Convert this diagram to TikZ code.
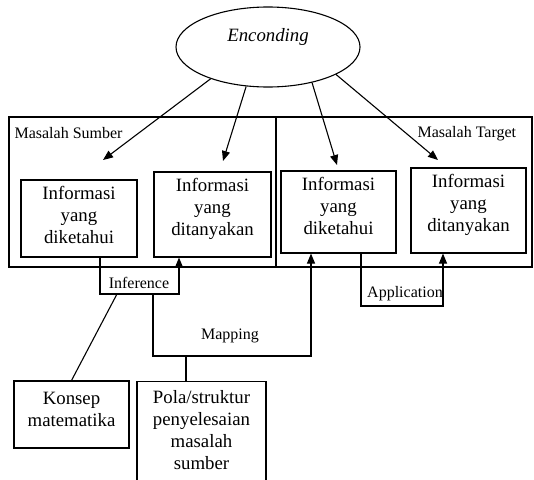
\documentclass[tikz,border=0pt]{standalone}
\usepackage{fontspec}
\setmainfont{Liberation Serif}
\usetikzlibrary{arrows.meta,shapes.geometric}
\begin{document}
\begin{tikzpicture}[x=1pt,y=-1pt,line width=1.1pt,
  box/.style={draw, align=center, font=\fontsize{18.8}{22}\selectfont, inner sep=0pt},
  lab/.style={font=\fontsize{16}{19}\selectfont, inner sep=0pt},
  arr/.style={-{Triangle[length=10pt,width=8pt]}}]
\useasboundingbox (0,0) rectangle (534,479);
% frames
\draw (9,117) rectangle (532,267);
\draw (276,117) -- (276,267);
\node[lab, anchor=base west] (ms) at (14,138) {Masalah Sumber};
\node[lab, anchor=base west] (mt) at (417,137) {Masalah Target};
% ellipse
\node[draw, ellipse, minimum width=184, minimum height=80, inner sep=0pt,
      font=\fontsize{18.8}{22}\selectfont\itshape, text height=14pt, text depth=26pt] (enc) at (268,47) {Enconding};
% boxes
\node[box, minimum width=116, minimum height=77, text depth=7pt] (A) at (79,218.5) {Informasi\\yang\\diketahui};
\node[box, minimum width=117, minimum height=85, text depth=16pt] (B) at (212.5,214.5) {Informasi\\yang\\ditanyakan};
\node[box, minimum width=115, minimum height=82, text depth=12pt] (C) at (338.5,212) {Informasi\\yang\\diketahui};
\node[box, minimum width=115, minimum height=85, text depth=15pt] (D) at (468.5,210.5) {Informasi\\yang\\ditanyakan};
\node[box, minimum width=115, minimum height=67, text depth=10pt] (K) at (71.5,414.5) {Konsep\\matematika};
\node[box, minimum width=129, inner ysep=9pt, text depth=24pt, anchor=north] (P) at (201.5,381) {Pola/struktur\\penyelesaian\\masalah\\sumber};
% encoding arrows
\coordinate (t1) at (103,160);
\coordinate (t2) at (223,161);
\coordinate (t3) at (337,165);
\coordinate (t4) at (438,160);
\draw[arr] (enc.209) -- (t1);
\draw[arr] (enc.241) -- (t2);
\draw[arr] (enc.321) -- (t3);
\draw[arr] (enc.338) -- (t4);
% inference
\coordinate (infBL) at (100,294);
\coordinate (infBR) at (179,294);
\draw[arr] (A.south -| infBL) -- (infBL) -- (infBR) -- (B.south -| infBR);
\node[lab, anchor=base] (inf) at (139,288) {Inference};
\coordinate (infK) at (117,294);
\draw (infK) -- (K.north);
% mapping
\coordinate (mapS) at (153,294);
\coordinate (mapBL) at (153,356);
\coordinate (mapBR) at (311,356);
\draw[arr] (mapS) -- (mapBL) -- (mapBR) -- (C.south -| mapBR);
\node[lab, anchor=base] (map) at (230,339) {Mapping};
\coordinate (polaT) at (186,356);
\draw (polaT) -- (P.north -| polaT);
% application
\coordinate (appL) at (361,306);
\coordinate (appR) at (443,306);
\draw[arr] (C.south -| appL) -- (appL) -- (appR) -- (D.south -| appR);
\node[lab, anchor=base] (app) at (405,297) {Application};
\end{tikzpicture}
\end{document}
